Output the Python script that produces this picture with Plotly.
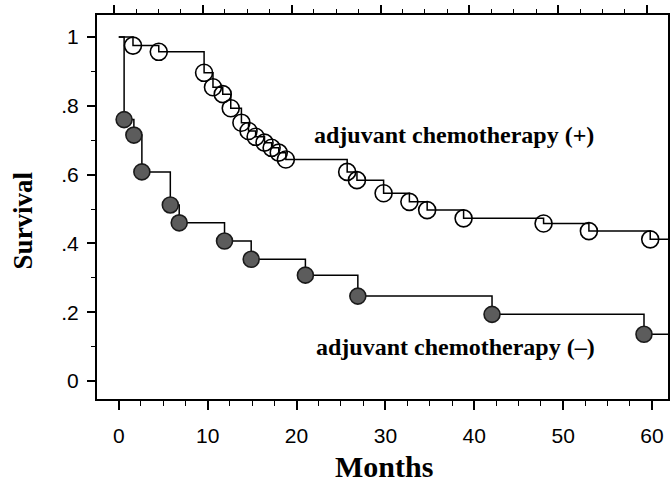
import plotly.graph_objects as go

# Chemotherapy (+) group: event times (months) and survival after each event
plus_times = [1.6, 4.5, 9.6, 10.6, 11.7, 12.6, 13.8, 14.6, 15.4, 16.4, 17.2, 18.0, 18.8,
              25.7, 26.8, 29.8, 32.7, 34.7, 38.8, 47.8, 52.9, 59.8]
plus_surv = [0.975, 0.957, 0.896, 0.854, 0.834, 0.793, 0.751, 0.727, 0.710, 0.693, 0.678,
             0.664, 0.644, 0.608, 0.584, 0.546, 0.521, 0.497, 0.473, 0.458, 0.436, 0.412]

# Chemotherapy (-) group
minus_times = [0.6, 1.7, 2.6, 5.8, 6.8, 11.9, 14.9, 21.0, 26.9, 42.0, 59.1]
minus_surv = [0.760, 0.715, 0.608, 0.512, 0.460, 0.407, 0.354, 0.308, 0.247, 0.194, 0.136]

follow_up_end = 62.0
x_ticks = [0, 10, 20, 30, 40, 50, 60]
y_ticks = [0, 0.2, 0.4, 0.6, 0.8, 1.0]
y_tick_text = ["0", ".2", ".4", ".6", ".8", "1"]
label_plus = "adjuvant chemotherapy (+)"
label_minus = "adjuvant chemotherapy (–)"

serif = "Liberation Serif"
sans = "Liberation Sans"


def step_xy(times, surv):
    xs = [0.0] + list(times) + [follow_up_end]
    ys = [1.0] + list(surv) + [surv[-1]]
    return xs, ys


fig = go.Figure()

for times, surv in [(plus_times, plus_surv), (minus_times, minus_surv)]:
    xs, ys = step_xy(times, surv)
    fig.add_trace(go.Scatter(x=xs, y=ys, mode="lines", line=dict(color="black", width=1.5, shape="hv"),
                             showlegend=False, hoverinfo="skip"))

fig.add_trace(go.Scatter(x=plus_times, y=plus_surv, mode="markers",
                         marker=dict(symbol="circle-open", size=17, color="black",
                                     line=dict(width=1.6, color="black")),
                         showlegend=False))
fig.add_trace(go.Scatter(x=minus_times, y=minus_surv, mode="markers",
                         marker=dict(symbol="circle", size=16, color="#5c5c5c",
                                     line=dict(width=1.6, color="#1a1a1a")),
                         showlegend=False))

# invisible trace for top axis
fig.add_trace(go.Scatter(x=[0], y=[0], xaxis="x2", mode="markers", marker=dict(opacity=0),
                         showlegend=False, hoverinfo="skip"))

xr = [-2.45, 61.8]
xr_top = [xr[0] + 0.55, xr[1] + 0.55]
yr = [-0.052, 1.064]

fig.update_layout(
    width=671, height=484,
    margin=dict(l=97, r=1, t=15, b=85),
    paper_bgcolor="white", plot_bgcolor="white",
    xaxis=dict(range=xr, tickvals=x_ticks, ticks="outside", ticklen=9, tickwidth=1.6,
               tickcolor="black", showline=True, linecolor="black", linewidth=2,
               showgrid=False, zeroline=False, ticklabelstandoff=8,
               tickfont=dict(family=sans, size=21, color="black"),
               minor=dict(dtick=2.5, tick0=0, ticks="outside", ticklen=5, tickwidth=1.3,
                          tickcolor="black")),
    xaxis2=dict(range=xr_top, overlaying="x", side="top", tickvals=x_ticks, ticks="outside",
                ticklen=8, tickwidth=1.6, tickcolor="black", showticklabels=False,
                showline=True, linecolor="black", linewidth=2, showgrid=False, zeroline=False,
                minor=dict(dtick=2.5, tick0=0, ticks="outside", ticklen=4, tickwidth=1.3,
                           tickcolor="black")),
    yaxis=dict(range=yr, tickvals=y_ticks, ticktext=y_tick_text, ticks="outside", ticklen=8,
               tickwidth=1.6, tickcolor="black", showline=True, linecolor="black", linewidth=2,
               mirror=True, showgrid=False, zeroline=False, ticklabelstandoff=4,
               tickfont=dict(family=sans, size=21, color="black"),
               minor=dict(dtick=0.1, ticks="outside", ticklen=4, tickwidth=1.3, tickcolor="black")),
    annotations=[
        dict(text="<b>Survival</b>", xref="paper", yref="paper", x=-0.129, y=0.466,
             textangle=-90, showarrow=False, xanchor="center", yanchor="middle",
             font=dict(family=serif, size=27, color="black")),
        dict(text="<b>Months</b>", xref="paper", yref="paper", x=0.502, y=-0.177,
             showarrow=False, xanchor="center", yanchor="middle",
             font=dict(family=serif, size=30, color="black")),
        dict(text="<b>" + label_plus + "</b>", x=21.75, y=0.715, xref="x", yref="y",
             showarrow=False, xanchor="left", yanchor="middle",
             font=dict(family=serif, size=24, color="black")),
        dict(text="<b>" + label_minus + "</b>", x=21.95, y=0.099, xref="x", yref="y",
             showarrow=False, xanchor="left", yanchor="middle",
             font=dict(family=serif, size=24, color="black")),
    ],
)

fig.write_html("out.html")
